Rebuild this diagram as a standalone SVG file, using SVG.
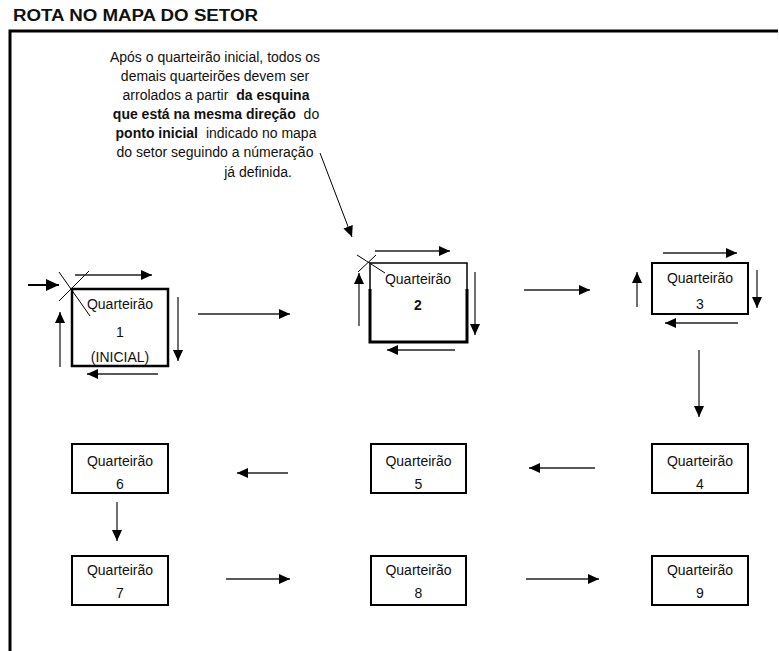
<svg xmlns="http://www.w3.org/2000/svg" width="779" height="651" viewBox="0 0 779 651">
<style>
text{font-family:"Liberation Sans",Arial,sans-serif;fill:#111}
.t{font-size:14px;text-anchor:middle}
.b{font-weight:bold}
.box{fill:#fff;stroke:#000;stroke-width:2}
.ln{stroke:#222;stroke-width:1.3;fill:none}
.thin{stroke:#000;stroke-width:1;fill:none}
</style>
<defs>
<marker id="ah" markerUnits="userSpaceOnUse" markerWidth="11" markerHeight="10" refX="11" refY="5" orient="auto"><path d="M0,0 L11,5 L0,10 z" fill="#000"/></marker>
<marker id="ahb" markerUnits="userSpaceOnUse" markerWidth="13" markerHeight="12" refX="13" refY="6" orient="auto"><path d="M0,0 L13,6 L0,12 z" fill="#000"/></marker>
</defs>
<rect width="779" height="651" fill="#fff"/>
<text x="13" y="21" font-size="16" class="b" textLength="245" lengthAdjust="spacingAndGlyphs">ROTA NO MAPA DO SETOR</text>
<path d="M10,651 V31 H778" fill="none" stroke="#000" stroke-width="3"/>
<g id="note">
<text class="t" x="215" y="62">Após o quarteirão inicial, todos os</text>
<text class="t" x="215" y="81">demais quarteirões devem ser</text>
<text class="t" x="216" y="100">arrolados a partir <tspan class="b" dx="4">da esquina</tspan></text>
<text class="t" x="216" y="119"><tspan class="b">que está na mesma direção</tspan><tspan dx="4"> do</tspan></text>
<text class="t" x="216" y="138"><tspan class="b">ponto inicial</tspan><tspan dx="4"> indicado no mapa</tspan></text>
<text class="t" x="215" y="157">do setor seguindo a númeração</text>
<text class="t" x="258" y="177">já definida.</text>
</g>
<g id="n1">
<rect x="72" y="289" width="96" height="77" fill="#fff" stroke="#000" stroke-width="2.5"/>
<text class="t" x="120" y="309">Quarteirão</text>
<text class="t" x="120" y="337">1</text>
<text class="t" x="120" y="362">(INICIAL)</text>
<line class="thin" x1="59" y1="272" x2="90" y2="316"/>
<line class="thin" x1="59" y1="301" x2="89" y2="271"/>
</g>
<g id="n2">
<rect x="370" y="263" width="97" height="79" fill="#fff" stroke="#000" stroke-width="1.5"/>
<path d="M370,289 V342 H467 V289" fill="none" stroke="#000" stroke-width="3"/>
<text class="t" x="418" y="284">Quarteirão</text>
<text class="t b" x="418" y="310">2</text>
<line class="thin" x1="357" y1="255" x2="385" y2="273"/>
<line class="thin" x1="358" y1="272" x2="376" y2="255"/>
</g>
<g id="n3">
<rect class="box" x="652" y="263" width="96" height="51"/>
<text class="t" x="700" y="283">Quarteirão</text>
<text class="t" x="700" y="309">3</text>
</g>
<g id="n4">
<rect class="box" x="652" y="444" width="96" height="49"/>
<text class="t" x="700" y="466">Quarteirão</text>
<text class="t" x="700" y="489">4</text>
</g>
<g id="n5">
<rect class="box" x="371" y="444" width="95" height="49"/>
<text class="t" x="418.5" y="466">Quarteirão</text>
<text class="t" x="418.5" y="489">5</text>
</g>
<g id="n6">
<rect class="box" x="72" y="444" width="96" height="49"/>
<text class="t" x="120" y="466">Quarteirão</text>
<text class="t" x="120" y="489">6</text>
</g>
<g id="n7">
<rect class="box" x="72" y="556" width="96" height="49"/>
<text class="t" x="120" y="575">Quarteirão</text>
<text class="t" x="120" y="598">7</text>
</g>
<g id="n8">
<rect class="box" x="371" y="556" width="95" height="49"/>
<text class="t" x="418.5" y="575">Quarteirão</text>
<text class="t" x="418.5" y="598">8</text>
</g>
<g id="n9">
<rect class="box" x="652" y="556" width="96" height="49"/>
<text class="t" x="700" y="575">Quarteirão</text>
<text class="t" x="700" y="598">9</text>
</g>
<g id="connectors" class="ln">
<line class="ln" x1="75" y1="275" x2="152" y2="275" marker-end="url(#ah)"/>
<line class="ln" x1="178" y1="297" x2="178" y2="361" marker-end="url(#ah)"/>
<line class="ln" x1="158" y1="374" x2="87" y2="374" marker-end="url(#ah)"/>
<line class="ln" x1="60" y1="367" x2="60" y2="312" marker-end="url(#ah)"/>
<line x1="28" y1="285" x2="59" y2="285" stroke="#000" stroke-width="2" marker-end="url(#ahb)"/>
<line class="ln" x1="198" y1="314" x2="290" y2="314" marker-end="url(#ah)"/>
<line class="ln" x1="375" y1="251" x2="450" y2="251" marker-end="url(#ah)"/>
<line class="ln" x1="475" y1="272" x2="475" y2="335" marker-end="url(#ah)"/>
<line class="ln" x1="455" y1="350" x2="387" y2="350" marker-end="url(#ah)"/>
<line class="ln" x1="359" y1="326" x2="359" y2="273" marker-end="url(#ah)"/>
<line class="ln" x1="524" y1="290" x2="590" y2="290" marker-end="url(#ah)"/>
<line class="ln" x1="663" y1="253" x2="737" y2="253" marker-end="url(#ah)"/>
<line class="ln" x1="757" y1="270" x2="757" y2="308" marker-end="url(#ah)"/>
<line class="ln" x1="738" y1="323" x2="665" y2="323" marker-end="url(#ah)"/>
<line class="ln" x1="637" y1="307" x2="637" y2="272" marker-end="url(#ah)"/>
<line class="ln" x1="699" y1="350" x2="699" y2="417" marker-end="url(#ah)"/>
<line class="ln" x1="595" y1="468" x2="529" y2="468" marker-end="url(#ah)"/>
<line class="ln" x1="288" y1="473" x2="237" y2="473" marker-end="url(#ah)"/>
<line class="ln" x1="117" y1="502" x2="117" y2="541" marker-end="url(#ah)"/>
<line class="ln" x1="226" y1="579" x2="290" y2="579" marker-end="url(#ah)"/>
<line class="ln" x1="526" y1="579" x2="599" y2="579" marker-end="url(#ah)"/>
<line x1="320" y1="153" x2="352" y2="237" stroke="#000" stroke-width="1" marker-end="url(#ah)"/>
</g>
</svg>
